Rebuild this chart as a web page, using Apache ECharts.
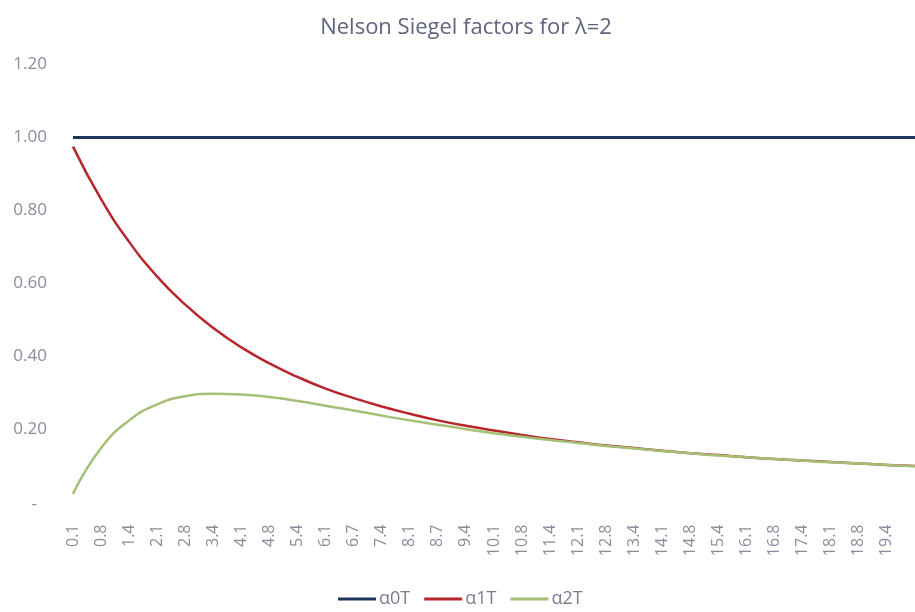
<!DOCTYPE html>
<html>
<head>
<meta charset="utf-8">
<script src="https://cdn.jsdelivr.net/npm/echarts@6/dist/echarts.min.js"></script>
<style>html,body{margin:0;padding:0;background:#fff;}#c{width:915px;height:612px;}</style>
</head>
<body>
<div id="c"></div>
<script>
// Maturities (category labels); the last one lies just past the visible edge
var categories = ['0.1','0.8','1.4','2.1','2.8','3.4','4.1','4.8','5.4','6.1','6.7','7.4','8.1','8.7','9.4','10.1','10.8','11.4','12.1','12.8','13.4','14.1','14.8','15.4','16.1','16.8','17.4','18.1','18.8','19.4','20.1'];
var alpha0 = [1,1,1,1,1,1,1,1,1,1,1,1,1,1,1,1,1,1,1,1,1,1,1,1,1,1,1,1,1,1,1];
var alpha1 = [0.975,0.831,0.714,0.619,0.542,0.478,0.425,0.381,0.344,0.312,0.286,0.263,0.243,0.225,0.210,0.197,0.185,0.174,0.165,0.156,0.149,0.142,0.135,0.130,0.124,0.119,0.115,0.111,0.107,0.103,0.100];
var alpha2 = [0.024,0.149,0.225,0.269,0.291,0.298,0.296,0.289,0.278,0.265,0.252,0.238,0.225,0.213,0.201,0.190,0.180,0.171,0.163,0.155,0.148,0.141,0.135,0.129,0.124,0.119,0.115,0.110,0.107,0.103,0.099];
var yTicks = [0, 0.2, 0.4, 0.6, 0.8, 1.0, 1.2];

var chart = echarts.init(document.getElementById('c'));
var ff = '"Open Sans", "Liberation Sans", sans-serif';
var labelColor = '#8a8c9c';
chart.setOption({
  backgroundColor: '#ffffff',
  animation: false,
  title: {
    text: 'Nelson Siegel factors for \u03bb=2',
    left: 461, top: 12, textAlign: 'center',
    textStyle: {fontFamily: ff, fontSize: 22, fontWeight: 'normal', color: '#60647e'}
  },
  legend: {
    left: 333, top: 585,
    icon: 'rect', itemWidth: 38, itemHeight: 3, itemGap: 14,
    textStyle: {fontFamily: ff, fontSize: 18, color: '#7a7f8e', padding: [0,0,0,-2]},
    data: ['\u03b10T','\u03b11T','\u03b12T']
  },
  grid: {left: 73, right: -8, top: 64.5, bottom: 109.5, containLabel: false},
  xAxis: {
    type: 'category', data: categories, boundaryGap: false,
    axisLine: {show: false}, axisTick: {show: false}, splitLine: {show: false},
    axisLabel: {
      rotate: 90, margin: 22, interval: 0,
      fontFamily: ff, fontSize: 16, color: labelColor,
      formatter: function (v, i) { return i < categories.length - 1 ? v : ''; }
    }
  },
  yAxis: {
    type: 'value', min: yTicks[0], max: yTicks[yTicks.length - 1], interval: 0.2,
    axisLine: {show: false}, axisTick: {show: false}, splitLine: {show: false},
    axisLabel: {
      margin: 26, fontFamily: ff, fontSize: 17, color: labelColor,
      formatter: function (v) { return Math.abs(v) < 1e-9 ? '{z|-}' : v.toFixed(2); },
      rich: {z: {fontFamily: ff, fontSize: 17, color: labelColor, padding: [4, 10, 0, 0]}}
    }
  },
  series: [
    {name: '\u03b10T', type: 'line', data: alpha0, showSymbol: false, lineStyle: {color: '#1f3560', width: 3}, itemStyle: {color: '#1f3560'}},
    {name: '\u03b11T', type: 'line', data: alpha1, smooth: 0.5, showSymbol: false, lineStyle: {color: '#b5272b', width: 2.5}, itemStyle: {color: '#b5272b'}},
    {name: '\u03b12T', type: 'line', data: alpha2, smooth: 0.5, showSymbol: false, lineStyle: {color: '#a4c075', width: 2.5}, itemStyle: {color: '#a4c075'}}
  ]
});
</script>
</body>
</html>
